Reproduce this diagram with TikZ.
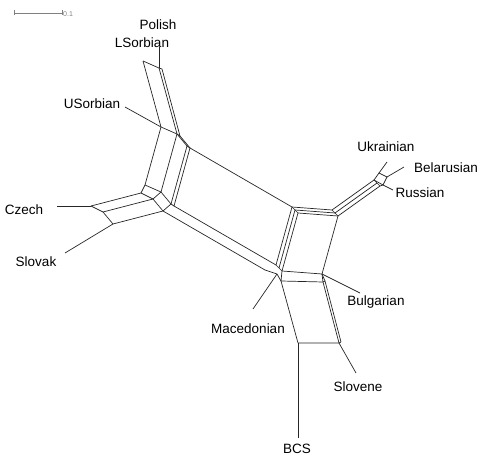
\documentclass[tikz,border=0pt]{standalone}
\usepackage{fontspec}
\setmainfont{Liberation Sans}
\begin{document}
\begin{tikzpicture}[x=1pt,y=-1pt,
  edge/.style={line width=0.7pt, black!85},
  lbl/.style={font=\fontsize{13.5}{16}\selectfont, inner sep=0pt}]
\useasboundingbox (0,0) rectangle (480,457);
% scale bar
\coordinate (sb1) at (14,13); \coordinate (sb2) at (62,13);
\draw[gray, line width=0.6pt] (sb1) -- (sb2);
\draw[gray, line width=0.6pt] ([yshift=2.5pt]sb1) -- ([yshift=-2.5pt]sb1);
\draw[gray, line width=0.6pt] ([yshift=2.5pt]sb2) -- ([yshift=-2.5pt]sb2);
\node[gray, font=\fontsize{7}{8}\selectfont, inner sep=0pt, anchor=west] (sbl) at (63,14) {0.1};
% top band
\coordinate (PLt) at (159,47); \coordinate (PL) at (159,68); \coordinate (LS) at (143,61); \coordinate (PLb) at (162,69);
\coordinate (B1) at (161,127); \coordinate (B2) at (177,134); \coordinate (B3) at (180,136);
\coordinate (US0) at (125,107);
\draw[edge] (PLt) -- (PL); \draw[edge] (LS) -- (PL) -- (PLb);
\draw[edge] (LS) -- (B1); \draw[edge] (PL) -- (B2); \draw[edge] (PLb) -- (B3);
\draw[edge] (US0) -- (B1) -- (B2) -- (B3);
% upper-left bundle
\coordinate (D2) at (187,146); \coordinate (D3) at (190,148);
\coordinate (A1) at (145,185); \coordinate (A2) at (161,192);
\coordinate (E2) at (171,204); \coordinate (E3) at (174,206);
\draw[edge] (B2) -- (D2); \draw[edge] (B3) -- (D3); \draw[edge] (D2) -- (D3);
\draw[edge] (B1) -- (A1); \draw[edge] (B2) -- (A2);
\draw[edge] (D2) -- (E2); \draw[edge] (D3) -- (E3);
\draw[edge] (A1) -- (A2) -- (E2) -- (E3);
% Czech / Slovak
\coordinate (K1) at (141,193); \coordinate (K2) at (153,199); \coordinate (K3) at (163,211);
\coordinate (C1) at (91,206); \coordinate (C2) at (103,212); \coordinate (C3) at (113,224);
\coordinate (Cz0) at (57,206); \coordinate (Sk0) at (65,253);
\draw[edge] (A1) -- (K1); \draw[edge] (A2) -- (K2); \draw[edge] (E2) -- (K3);
\draw[edge] (K1) -- (K2) -- (K3);
\draw[edge] (K1) -- (C1); \draw[edge] (K2) -- (C2); \draw[edge] (K3) -- (C3);
\draw[edge] (C1) -- (C2) -- (C3);
\draw[edge] (Cz0) -- (C1); \draw[edge] (Sk0) -- (C3);
% central parallelogram
\coordinate (O1) at (292,207); \coordinate (O2) at (295,210); \coordinate (O3) at (298,213);
\coordinate (L1) at (276,265); \coordinate (L2) at (279,268); \coordinate (L3) at (282,271);
\coordinate (L0) at (265,270); \coordinate (Mn) at (277,274);
\draw[edge] (D3) -- (O1); \draw[edge] (E3) -- (L1); \draw[edge] (K3) -- (L0);
\draw[edge] (L0) -- (Mn);
% right box
\coordinate (T1) at (332,210); \coordinate (T2) at (335,213); \coordinate (T3) at (338,216);
\coordinate (BR) at (322,274);
\draw[edge] (O1) -- (O2) -- (O3);
\draw[edge] (O1) -- (T1); \draw[edge] (O2) -- (T2); \draw[edge] (O3) -- (T3);
\draw[edge] (O1) -- (L1); \draw[edge] (O2) -- (L2); \draw[edge] (O3) -- (L3);
\draw[edge] (T1) -- (T2) -- (T3); \draw[edge] (L1) -- (L2) -- (L3);
\draw[edge] (T3) -- (BR); \draw[edge] (L3) -- (BR);
% lower box
\coordinate (P1) at (281,281); \coordinate (P2) at (323,282); \coordinate (P2b) at (325,281);
\coordinate (P3) at (298,343); \coordinate (P4) at (339,343); \coordinate (P4b) at (341,342);
\draw[edge] (L3) -- (P1); \draw[edge] (Mn) -- (P1); \draw[edge] (BR) -- (P2); \draw[edge] (BR) -- (P2b);
\draw[edge] (P1) -- (P2) -- (P2b);
\draw[edge] (P1) -- (P3); \draw[edge] (P2) -- (P4); \draw[edge] (P2b) -- (P4b);
\draw[edge] (P3) -- (P4) -- (P4b);
\coordinate (BCS0) at (298,438); \coordinate (Sl0) at (356,373); \coordinate (Bu0) at (360,293); \coordinate (Ma0) at (253,309);
\draw[edge] (P3) -- (BCS0); \draw[edge] (P4) -- (Sl0); \draw[edge] (BR) -- (Bu0); \draw[edge] (Mn) -- (Ma0);
% east branch
\coordinate (R1) at (374,180); \coordinate (R2) at (377,183); \coordinate (R3) at (380,186);
\coordinate (Q2) at (379,173); \coordinate (Q3) at (387,177); \coordinate (Q5) at (383,185);
\draw[edge] (T1) -- (R1); \draw[edge] (T2) -- (R2); \draw[edge] (T3) -- (R3);
\draw[edge] (R1) -- (R2) -- (R3) -- (Q5);
\draw[edge] (R1) -- (Q2) -- (Q3) -- (Q5) -- (R1);
\coordinate (Uk0) at (387,162); \coordinate (Be0) at (404,167); \coordinate (Ru0) at (393,190);
\draw[edge] (Q2) -- (Uk0); \draw[edge] (Q3) -- (Be0); \draw[edge] (Q5) -- (Ru0);
% labels
\node[lbl] (nPolish) at (158,25) {Polish};
\node[lbl] (nLS) at (142,43) {LSorbian};
\node[lbl] (nUS) at (92,104) {USorbian};
\node[lbl] (nCz) at (24,210) {Czech};
\node[lbl] (nSk) at (36,262) {Slovak};
\node[lbl] (nMa) at (248,329) {Macedonian};
\node[lbl] (nBu) at (376,302) {Bulgarian};
\node[lbl] (nSl) at (358,387) {Slovene};
\node[lbl] (nBCS) at (297,449) {BCS};
\node[lbl] (nUk) at (386,147) {Ukrainian};
\node[lbl] (nBe) at (446,168) {Belarusian};
\node[lbl] (nRu) at (420,193) {Russian};
\end{tikzpicture}
\end{document}
